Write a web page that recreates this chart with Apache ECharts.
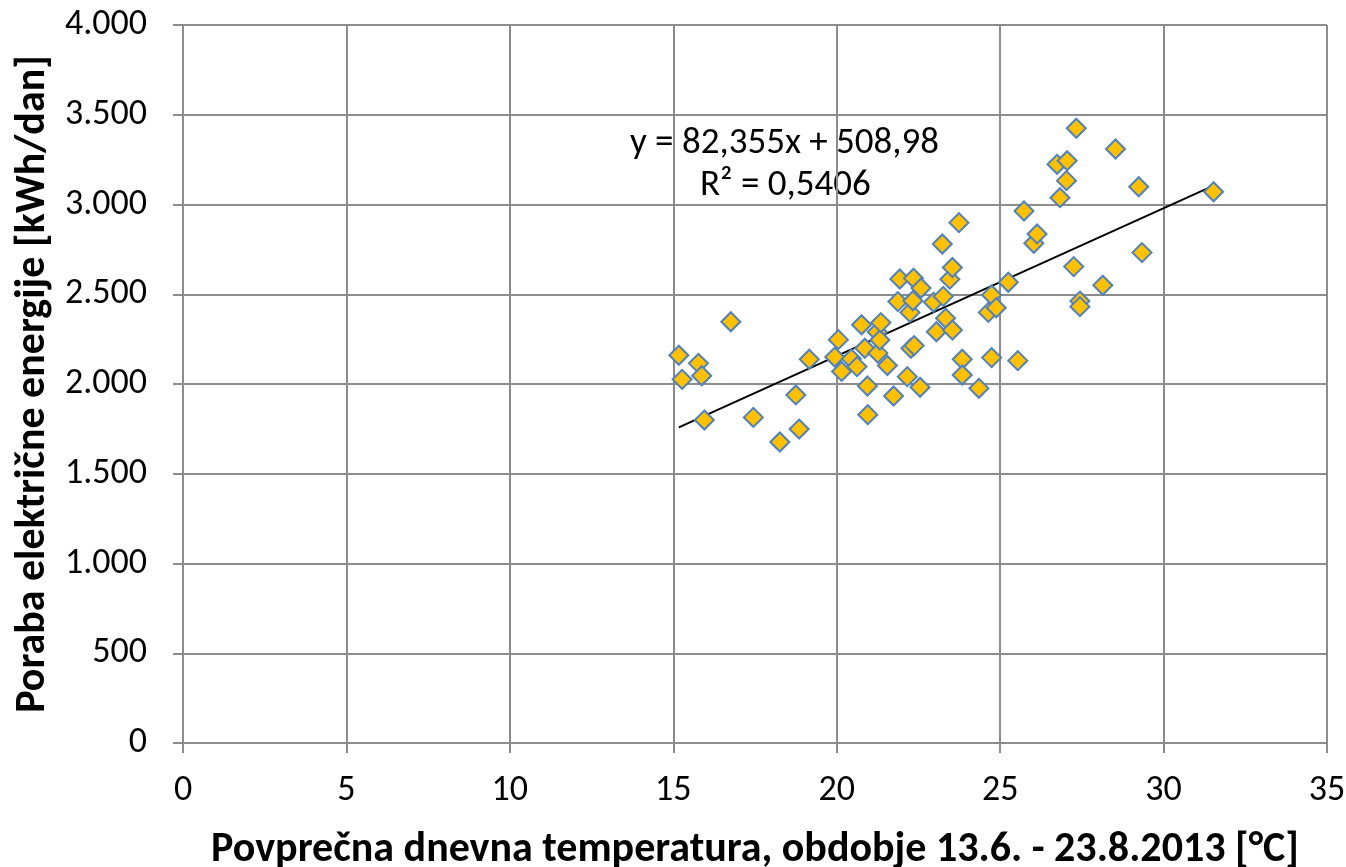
<!DOCTYPE html>
<html>
<head>
<meta charset="utf-8">
<script src="https://cdn.jsdelivr.net/npm/echarts@6/dist/echarts.min.js"></script>
<style>
html,body{margin:0;padding:0;background:#fff}
#chart{width:1346px;height:867px}
</style>
</head>
<body>
<div id="chart"></div>
<script>
// dnevna temperatura [°C] in poraba [kWh/dan], odčitano s slike
var temps = [15.17,15.27,15.77,15.87,15.95,16.76,17.45,18.26,18.75,18.85,
  19.16,19.94,20.05,20.15,20.45,20.62,20.76,20.86,20.94,20.95,
  21.24,21.26,21.32,21.35,21.55,21.74,21.87,21.93,22.16,22.24,
  22.27,22.33,22.35,22.37,22.55,22.58,22.96,23.05,23.26,23.23,
  23.33,23.46,23.54,23.54,23.74,23.84,23.84,24.35,24.64,24.74,
  24.74,24.88,25.25,25.54,25.73,26.03,26.13,26.74,26.83,27.03,
  27.05,27.25,27.33,27.44,27.44,28.14,28.53,29.24,29.34,31.53]
var energy = [2160,2026,2115,2046,1799,2347,1814,1677,1939,1749,
  2138,2150,2247,2070,2140,2097,2330,2199,1989,1829,
  2290,2172,2245,2342,2103,1933,2459,2585,2041,2399,
  2199,2464,2589,2214,1982,2535,2455,2291,2488,2780,
  2366,2584,2301,2649,2899,2138,2050,1976,2399,2496,
  2147,2425,2567,2130,2964,2784,2836,3224,3038,3133,
  3244,2654,3425,2462,2431,2550,3309,3099,2732,3071]
var slope = 82.355, intercept = 508.98
var eqText = ['y = 82,355x + 508,98', 'R² = 0,5406']
var xTicks = {min: 0, max: 35, step: 5}
var yTicks = {min: 0, max: 4000, step: 500}

var points = temps.map(function (t, i) { return [t, energy[i]] })
var xMin = Math.min.apply(null, temps), xMax = Math.max.apply(null, temps)
var trend = [[xMin, slope * xMin + intercept], [xMax, slope * xMax + intercept]]

var fmtThousands = function (v) {
  if (v < 1000) return String(v)
  return Math.floor(v / 1000) + '.' + String(v % 1000).padStart(3, '0')
}
var font = 'Carlito, Calibri, Lato, sans-serif'
var gray = '#8c8c8c'

var chart = echarts.init(document.getElementById('chart'))
chart.setOption({
  animation: false,
  grid: {left: 183, top: 25, width: 1144, height: 718, outerBoundsMode: 'none', containLabel: false},
  xAxis: {
    type: 'value', min: xTicks.min, max: xTicks.max, interval: xTicks.step,
    name: 'Povprečna dnevna temperatura, obdobje 13.6. - 23.8.2013 [°C]',
    nameLocation: 'middle', nameGap: 86,
    nameTextStyle: {fontFamily: font, fontSize: 42, fontWeight: 'bold', color: '#000'},
    axisLine: {lineStyle: {color: gray, width: 2}},
    axisTick: {show: true, length: 10, lineStyle: {color: gray, width: 2}},
    axisLabel: {fontFamily: font, fontSize: 36, color: '#000', margin: 30},
    splitLine: {lineStyle: {color: gray, width: 2}}
  },
  yAxis: {
    type: 'value', min: yTicks.min, max: yTicks.max, interval: yTicks.step,
    name: 'Poraba električne energije [kWh/dan]',
    nameLocation: 'middle', nameGap: 129,
    nameTextStyle: {fontFamily: font, fontSize: 42, fontWeight: 'bold', color: '#000'},
    axisLine: {show: true, lineStyle: {color: gray, width: 2}},
    axisTick: {show: true, length: 10, lineStyle: {color: gray, width: 2}},
    axisLabel: {fontFamily: font, fontSize: 36, color: '#000', margin: 36, formatter: fmtThousands},
    splitLine: {lineStyle: {color: gray, width: 2}}
  },
  series: [
    {
      type: 'line', data: trend, symbol: 'none', z: 3,
      lineStyle: {color: '#000', width: 2}
    },
    {
      type: 'scatter', data: points, symbol: 'diamond', symbolSize: 19, z: 4,
      itemStyle: {color: '#FFC000', borderColor: '#4F81BD', borderWidth: 2, opacity: 1}
    }
  ],
  graphic: [
    {type: 'text', left: 630, top: 125, style: {text: eqText[0], font: '37px ' + font, fill: '#000'}},
    {type: 'text', left: 700, top: 167, style: {text: eqText[1], font: '37px ' + font, fill: '#000'}}
  ]
})
</script>
</body>
</html>
